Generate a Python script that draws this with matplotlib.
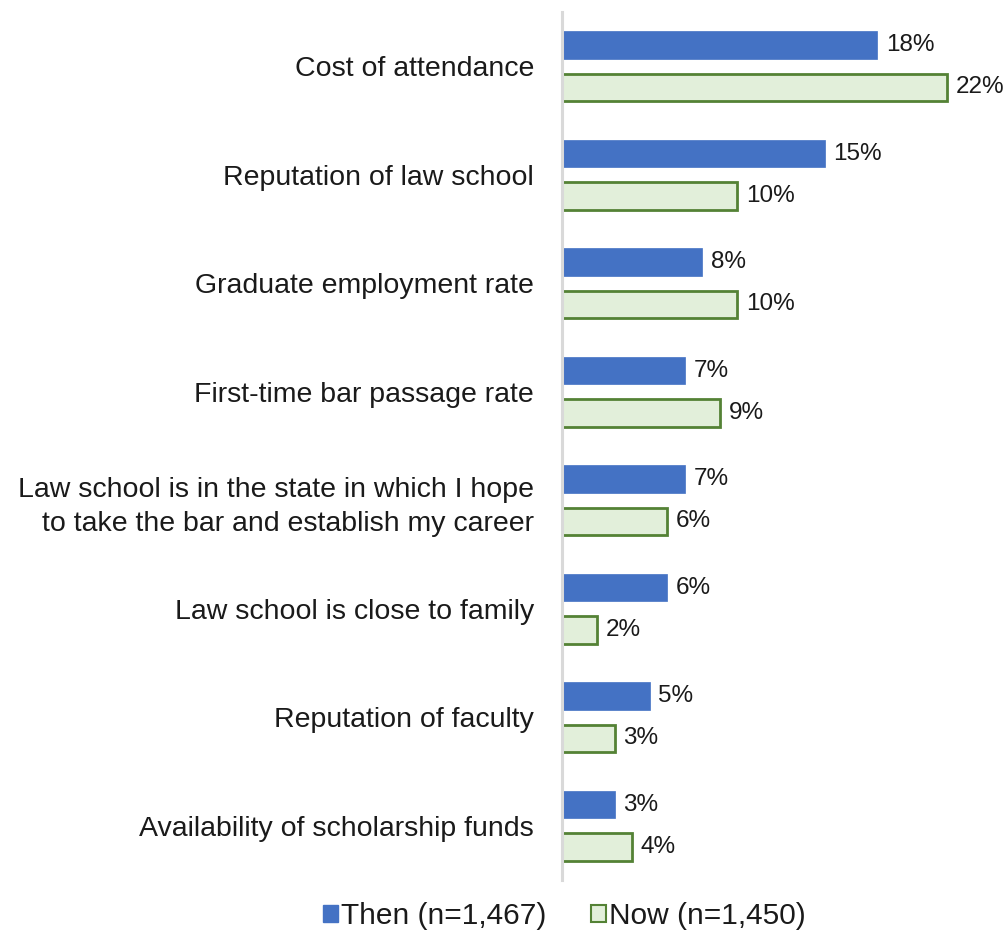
import matplotlib
matplotlib.use("Agg")
import matplotlib.pyplot as plt
from matplotlib.patches import Patch
import numpy as np

plt.rcParams['font.family'] = ['Liberation Sans', 'DejaVu Sans']

categories = [
    "Cost of attendance",
    "Reputation of law school",
    "Graduate employment rate",
    "First-time bar passage rate",
    "Law school is in the state in which I hope\nto take the bar and establish my career",
    "Law school is close to family",
    "Reputation of faculty",
    "Availability of scholarship funds",
]
then_values = [18, 15, 8, 7, 7, 6, 5, 3]
now_values = [22, 10, 10, 9, 6, 2, 3, 4]
then_label = "Then (n=1,467)"
now_label = "Now (n=1,450)"

blue = "#4472C4"
green_fill = "#E2EFDA"
green_edge = "#548235"
text_color = "#1A1A1A"

fig = plt.figure(figsize=(10.08, 9.34), dpi=100)
ax = fig.add_axes([562 / 1008, 1 - 880 / 934, 438 / 1008, 868 / 934])

y = np.arange(len(categories))
h = 0.255
off = 0.195

ax.barh(y - off, then_values, height=h, color=blue, edgecolor=blue, linewidth=0.5)
ax.barh(y + off, now_values, height=h, color=green_fill, edgecolor=green_edge, linewidth=2.0)

for yi, v in zip(y, then_values):
    ax.text(v + 0.5, yi - off, f"{v}%", va="center", ha="left", fontsize=17.5, color=text_color)
for yi, v in zip(y, now_values):
    ax.text(v + 0.5, yi + off, f"{v}%", va="center", ha="left", fontsize=17.5, color=text_color)

ax.set_xlim(0, 25)
ax.set_ylim(len(categories) - 0.5, -0.5)
ax.set_yticks(y)
ax.set_yticklabels(categories, fontsize=20.5, color=text_color, ha="right", linespacing=1.4)
ax.tick_params(axis="y", length=0, pad=20)
ax.set_xticks([])
for side in ["top", "right", "bottom"]:
    ax.spines[side].set_visible(False)
ax.spines["left"].set_color("#D9D9D9")
ax.spines["left"].set_linewidth(2.2)

handles = [
    Patch(facecolor=blue, edgecolor=blue, label=then_label),
    Patch(facecolor=green_fill, edgecolor=green_edge, linewidth=1.5, label=now_label),
]
fig.legend(handles=handles, loc="center", bbox_to_anchor=(564 / 1008, 1 - 916 / 934),
           ncol=2, frameon=False, fontsize=21.5, handlelength=0.5, handleheight=0.5,
           handletextpad=0.1, columnspacing=1.5, labelcolor=text_color)

fig.savefig("out.png", dpi=100)
